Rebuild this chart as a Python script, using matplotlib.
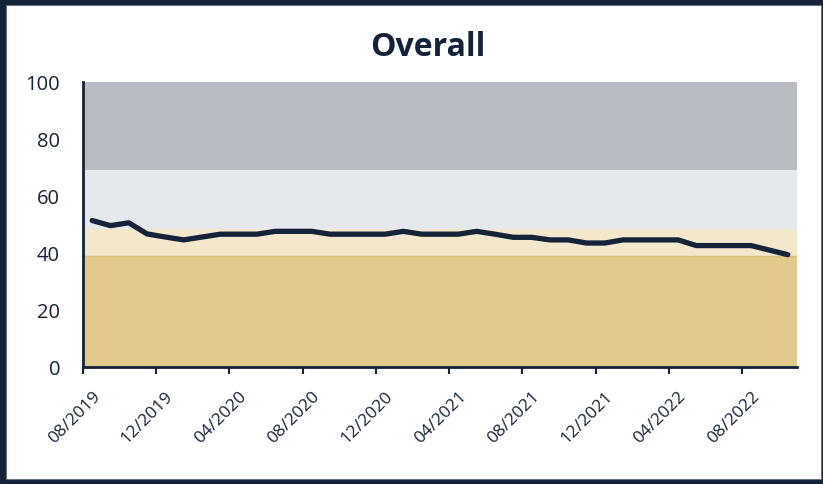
import matplotlib.pyplot as plt
from matplotlib.patches import Rectangle
from matplotlib.transforms import ScaledTranslation

plt.rcParams['font.family'] = ['Open Sans', 'DejaVu Sans']

# monthly scores, 08/2019 .. 10/2022
months = ['08/2019', '09/2019', '10/2019', '11/2019', '12/2019', '01/2020', '02/2020',
          '03/2020', '04/2020', '05/2020', '06/2020', '07/2020', '08/2020', '09/2020',
          '10/2020', '11/2020', '12/2020', '01/2021', '02/2021', '03/2021', '04/2021',
          '05/2021', '06/2021', '07/2021', '08/2021', '09/2021', '10/2021', '11/2021',
          '12/2021', '01/2022', '02/2022', '03/2022', '04/2022', '05/2022', '06/2022',
          '07/2022', '08/2022', '09/2022', '10/2022']
scores = [51.4, 49.6, 50.6, 46.7, 45.6, 44.6, 45.6, 46.6, 46.6, 46.6, 47.6, 47.6, 47.6,
          46.6, 46.6, 46.6, 46.6, 47.6, 46.6, 46.6, 46.6, 47.6, 46.6, 45.5, 45.5, 44.6,
          44.6, 43.5, 43.5, 44.6, 44.6, 44.6, 44.6, 42.6, 42.6, 42.6, 42.6, 41.0, 39.4]

# background bands (lower, upper, colour)
band_edges = [0, 39, 48.4, 69, 100]
band_colors = ['#e3c98b', '#f3e7cc', '#e5e8ed', '#b8bbc2']

navy = '#14233a'

fig = plt.figure(figsize=(8.23, 4.85), dpi=100)
fig.patch.set_facecolor(navy)
W, H = 823, 485
fig.patches.append(Rectangle((6 / W, 5 / H), (821 - 6) / W, (479 - 5) / H,
                             transform=fig.transFigure, facecolor='white',
                             edgecolor='#6b7380', linewidth=0.8, zorder=-5))

ax = fig.add_axes([83 / W, 1 - 368 / H, (797 - 83) / W, (368 - 83) / H])
ax.set_zorder(1)
ax.set_facecolor('white')

for lo, hi, c in zip(band_edges[:-1], band_edges[1:], band_colors):
    ax.axhspan(lo, hi, color=c, lw=0, zorder=0)
ax.axhline(band_edges[1], color='#d9bd7b', lw=1, zorder=1)

x = [i + 0.5 for i in range(len(scores))]
ax.plot(x, scores, color=navy, lw=3.8, solid_capstyle='round', solid_joinstyle='round', zorder=3)

ax.set_xlim(0, len(months))
ax.set_ylim(0, 100)
tick_pos = list(range(0, len(months), 4))
ax.set_xticks(tick_pos)
ax.set_yticks([0, 20, 40, 60, 80, 100])
ax.tick_params(axis='y', length=0, labelsize=14.5, labelcolor=navy, pad=16.5)
ax.tick_params(axis='x', length=5, width=1.5, color=navy, pad=4)
ax.set_xticklabels([months[i] for i in tick_pos], rotation=45, ha='right',
                   rotation_mode='anchor', fontsize=12.5, color=navy)
# nudge the rotated labels right and down, as in the original
shift = ScaledTranslation(9 / 100, -8 / 100, fig.dpi_scale_trans)
for lbl in ax.xaxis.get_majorticklabels():
    lbl.set_transform(lbl.get_transform() + shift)

for s in ['top', 'right']:
    ax.spines[s].set_visible(False)
for s in ['left', 'bottom']:
    ax.spines[s].set_color(navy)
    ax.spines[s].set_linewidth(2)

fig.text(427.5 / W, 1 - 47 / H, 'Overall', ha='center', va='center',
         fontsize=23, fontweight='bold', color=navy, zorder=2)

fig.savefig('out.png', dpi=100, facecolor=fig.get_facecolor())
